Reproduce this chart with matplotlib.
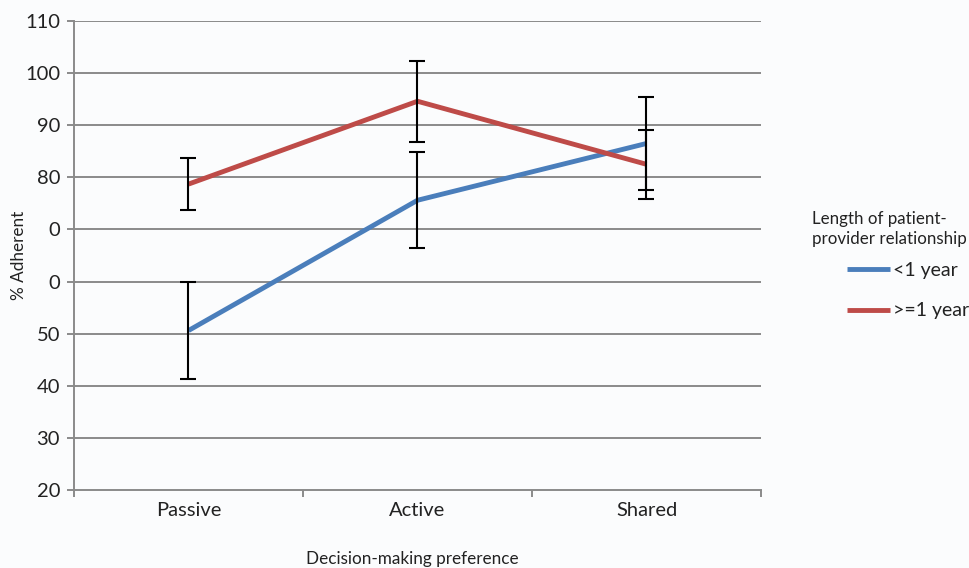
import matplotlib
matplotlib.use("Agg")
import matplotlib.pyplot as plt

categories = ["Passive", "Active", "Shared"]
series_names = ["<1 year", ">=1 year"]
less_1yr = [50.6, 75.6, 86.5]
less_1yr_err = [9.3, 9.2, 9.0]
more_1yr = [78.7, 94.6, 82.5]
more_1yr_err = [5.0, 7.8, 6.6]
ytick_vals = [20, 30, 40, 50, 60, 70, 80, 90, 100, 110]
ytick_labels = ["20", "30", "40", "50", "0", "0", "80", "90", "100", "110"]

plt.rcParams['font.family'] = ['Lato', 'DejaVu Sans']

fig = plt.figure(figsize=(9.69, 5.68), dpi=100)
fig.patch.set_facecolor("#fbfcfd")
ax = fig.add_axes([74/969, 1-490/568, (761-74)/969, (490-21)/568])
ax.set_facecolor("#fbfcfd")

x = list(range(len(categories)))
blue = "#4a7ebb"
red = "#be4b48"
grid_c = "#8a8a8a"
txt_c = "#222222"

for yv in ytick_vals[1:]:
    ax.axhline(yv, color=grid_c, lw=1.4, zorder=1)

l1, = ax.plot(x, less_1yr, color=blue, lw=3.5, zorder=3, solid_capstyle="butt")
l2, = ax.plot(x, more_1yr, color=red, lw=3.5, zorder=3, solid_capstyle="butt")
ax.errorbar(x, less_1yr, yerr=less_1yr_err, fmt="none", ecolor="black", elinewidth=1.5, capsize=6, capthick=1.5, zorder=4)
ax.errorbar(x, more_1yr, yerr=more_1yr_err, fmt="none", ecolor="black", elinewidth=1.5, capsize=6, capthick=1.5, zorder=4)

ax.set_xlim(-0.5, 2.5)
ax.set_ylim(20, 110)
ax.set_yticks(ytick_vals)
ax.set_yticklabels(ytick_labels, fontsize=14.5, color=txt_c)
ax.set_xticks([-0.5, 0.5, 1.5, 2.5])
ax.set_xticklabels([])
ax.set_xticks(x, minor=True)
ax.set_xticklabels(categories, minor=True, fontsize=14.5, color=txt_c)
ax.tick_params(axis="x", which="minor", length=0, pad=9)
ax.tick_params(axis="x", which="major", length=5, color=grid_c, width=1.4)
ax.tick_params(axis="y", length=5, color=grid_c, width=1.4, pad=5)

for s in ["top", "right"]:
    ax.spines[s].set_visible(False)
for s in ["left", "bottom"]:
    ax.spines[s].set_color(grid_c)
    ax.spines[s].set_linewidth(1.4)

ax.set_ylabel("% Adherent", fontsize=12.3, color=txt_c)
ax.yaxis.set_label_coords((27-74)/687, 0.5)
fig.text(412/969, 1-559/568, "Decision-making preference", fontsize=12.3, ha="center", va="center", color=txt_c)

fig.text(812/969, 1-229/568, "Length of patient-\nprovider relationship", fontsize=12.2, ha="left", va="center", color=txt_c, linespacing=1.3)
fig.legend([l1, l2], series_names, loc="upper left", bbox_to_anchor=(847/969, 1-262/568),
           frameon=False, fontsize=14, handlelength=2.2, handletextpad=0.15, labelspacing=1.2,
           borderpad=0, borderaxespad=0, labelcolor=txt_c)

fig.savefig("out.png", dpi=100, facecolor=fig.get_facecolor())
